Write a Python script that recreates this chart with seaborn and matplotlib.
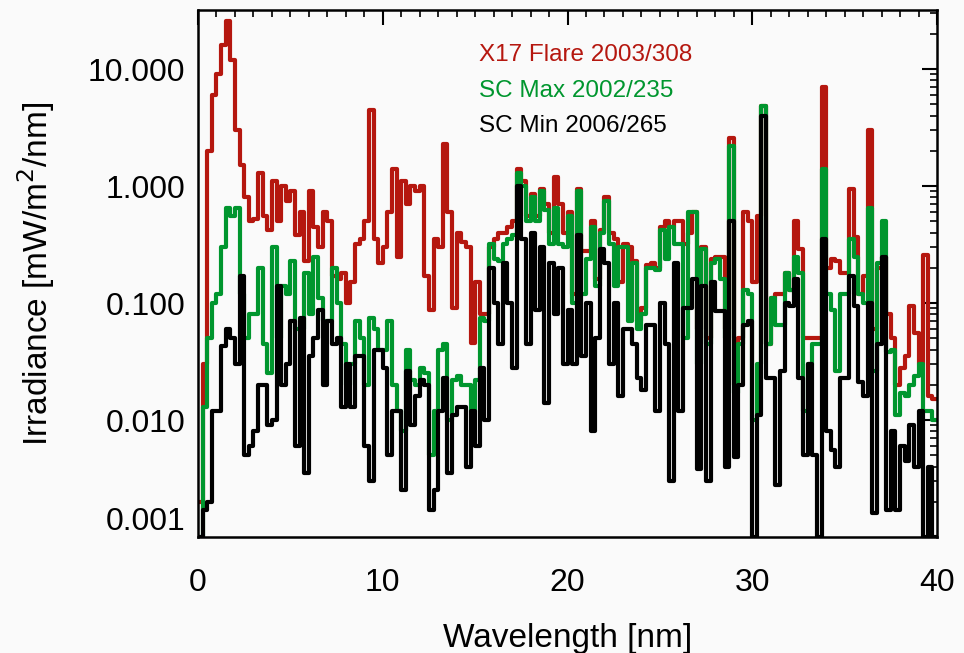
import numpy as np
import pandas as pd
import seaborn as sns
import matplotlib
matplotlib.use("Agg")
import matplotlib.pyplot as plt
from matplotlib.ticker import FixedLocator, LogLocator, NullFormatter, FixedFormatter

# spectra binned every 0.25 nm, 0 - 40 nm
bin_width = 0.25

flare_x17 = [
    0.002, 0.03, 2.0, 6.0, 9.0, 16, 26, 12, 3.0, 1.5,
    0.8, 0.5, 0.52, 1.3, 0.55, 0.42, 1.1, 0.5, 1.0, 0.75,
    0.9, 0.38, 0.6, 0.23, 0.9, 0.45, 0.3, 0.6, 0.5, 0.17,
    0.16, 0.18, 0.1, 0.15, 0.32, 0.35, 0.5, 4.5, 0.35, 0.22,
    0.3, 0.6, 1.4, 0.25, 1.1, 0.7, 1.0, 0.9, 1.0, 0.17,
    0.087, 0.35, 0.3, 2.3, 0.6, 0.09, 0.4, 0.33, 0.3, 0.046,
    0.15, 0.08, 0.08, 0.3, 0.35, 0.4, 0.4, 0.45, 0.5, 1.4,
    1.1, 0.55, 0.85, 0.55, 0.95, 0.7, 0.4, 1.2, 0.7, 0.4,
    0.6, 0.12, 0.95, 0.28, 0.28, 0.5, 0.16, 0.42, 0.8, 0.4,
    0.35, 0.15, 0.32, 0.3, 0.23, 0.07, 0.09, 0.21, 0.22, 0.2,
    0.45, 0.5, 0.45, 0.5, 0.5, 0.32, 0.4, 0.6, 0.06, 0.3,
    0.05, 0.24, 0.25, 0.25, 0.06, 2.6, 0.02, 0.05, 0.6, 0.5,
    0.15, 0.55, 4.8, 0.045, 0.11, 0.12, 0.12, 0.18, 0.13, 0.5,
    0.29, 0.05, 0.05, 0.05, 0.05, 7.0, 0.2, 0.24, 0.23, 0.18,
    0.18, 0.95, 0.37, 0.12, 0.17, 3.0, 0.06, 0.2, 0.25, 0.08,
    0.05, 0.02, 0.028, 0.035, 0.095, 0.055, 0.03, 0.26, 0.016, 0.015,
]

sc_max = [
    0.001, 0.013, 0.05, 0.1, 0.12, 0.3, 0.65, 0.55, 0.65, 0.12,
    0.05, 0.08, 0.08, 0.2, 0.045, 0.025, 0.3, 0.05, 0.14, 0.12,
    0.23, 0.06, 0.06, 0.18, 0.08, 0.25, 0.11, 0.07, 0.07, 0.2,
    0.1, 0.045, 0.02, 0.03, 0.07, 0.05, 0.02, 0.075, 0.06, 0.04,
    0.04, 0.07, 0.02, 0.012, 0.008, 0.04, 0.022, 0.02, 0.028, 0.025,
    0.005, 0.012, 0.04, 0.045, 0.01, 0.022, 0.024, 0.02, 0.02, 0.012,
    0.022, 0.075, 0.07, 0.32, 0.24, 0.23, 0.32, 0.35, 0.38, 1.3,
    1.0, 0.5, 0.8, 0.5, 0.9, 0.63, 0.32, 0.65, 0.32, 0.3,
    0.55, 0.1, 0.9, 0.12, 0.24, 0.45, 0.14, 0.4, 0.75, 0.32,
    0.14, 0.3, 0.3, 0.07, 0.22, 0.06, 0.08, 0.2, 0.2, 0.19,
    0.42, 0.24, 0.45, 0.32, 0.32, 0.05, 0.6, 0.6, 0.03, 0.29,
    0.045, 0.22, 0.24, 0.16, 0.05, 2.2, 0.017, 0.045, 0.13, 0.12,
    0.01, 0.03, 4.8, 0.045, 0.11, 0.065, 0.065, 0.18, 0.13, 0.25,
    0.18, 0.012, 0.03, 0.045, 0.045, 1.4, 0.12, 0.087, 0.026, 0.12,
    0.12, 0.35, 0.25, 0.12, 0.1, 0.65, 0.026, 0.22, 0.5, 0.038,
    0.04, 0.011, 0.017, 0.016, 0.02, 0.024, 0.03, 0.012, 0.012, 0.01,
]

sc_min = [
    0.001, 0.0017, 0.002, 0.012, 0.012, 0.043, 0.06, 0.05, 0.03, 0.17,
    0.005, 0.006, 0.008, 0.02, 0.02, 0.009, 0.01, 0.14, 0.02, 0.03,
    0.07, 0.006, 0.075, 0.0035, 0.035, 0.05, 0.087, 0.02, 0.07, 0.045,
    0.05, 0.013, 0.03, 0.013, 0.035, 0.035, 0.006, 0.003, 0.04, 0.04,
    0.028, 0.005, 0.012, 0.012, 0.0025, 0.026, 0.009, 0.016, 0.022, 0.02,
    0.0017, 0.0025, 0.012, 0.023, 0.0035, 0.011, 0.013, 0.013, 0.004, 0.012,
    0.006, 0.028, 0.01, 0.2, 0.1, 0.045, 0.22, 0.1, 0.028, 1.0,
    0.35, 0.045, 0.4, 0.087, 0.3, 0.014, 0.22, 0.08, 0.2, 0.03,
    0.087, 0.03, 0.38, 0.035, 0.1, 0.008, 0.05, 0.29, 0.22, 0.03,
    0.1, 0.016, 0.06, 0.06, 0.045, 0.023, 0.018, 0.065, 0.065, 0.012,
    0.1, 0.045, 0.003, 0.22, 0.012, 0.09, 0.09, 0.16, 0.0038, 0.14,
    0.003, 0.15, 0.085, 0.085, 0.004, 0.5, 0.0048, 0.02, 0.065, 0.07,
    0.001, 0.011, 4.0, 0.023, 0.023, 0.0028, 0.026, 0.1, 0.095, 0.16,
    0.023, 0.005, 0.03, 0.005, 0.001, 0.35, 0.008, 0.0055, 0.004, 0.023,
    0.023, 0.17, 0.095, 0.021, 0.016, 0.1, 0.0016, 0.045, 0.25, 0.0017,
    0.008, 0.0017, 0.006, 0.0045, 0.009, 0.004, 0.012, 0.001, 0.004, 0.001,
]

labels = ["X17 Flare 2003/308", "SC Max 2002/235", "SC Min 2006/265"]
colors = ["#b5170f", "#00962e", "#000000"]

# long table, last value repeated at 40 nm so the step reaches the edge
edges = np.arange(len(flare_x17) + 1) * bin_width
frames = []
for name, vals in zip(labels, [flare_x17, sc_max, sc_min]):
    frames.append(pd.DataFrame({"wavelength": edges,
                                "irradiance": list(vals) + [vals[-1]],
                                "spectrum": name}))
df = pd.concat(frames, ignore_index=True)

sns.set_style("white")
plt.rcParams["font.family"] = ["Liberation Sans", "DejaVu Sans"]
plt.rcParams["text.color"] = "black"
plt.rcParams["axes.labelcolor"] = "black"
plt.rcParams["xtick.color"] = "black"
plt.rcParams["ytick.color"] = "black"

fig = plt.figure(figsize=(9.64, 6.53), dpi=100, facecolor="#fafafa")
ax = fig.add_axes([0.2054, 0.1776, 0.7666, 0.8071])
ax.set_facecolor("#fafafa")

sns.lineplot(data=df, x="wavelength", y="irradiance", hue="spectrum",
             hue_order=labels, palette=colors, drawstyle="steps-post",
             linewidth=3.0, legend=False, ax=ax, sort=False)

ax.set_yscale("log")
ax.set_xlim(0, 40)
ax.set_ylim(0.001, 32)

ax.xaxis.set_major_locator(FixedLocator([0, 10, 20, 30, 40]))
ax.xaxis.set_minor_locator(FixedLocator(np.arange(0, 41, 1)))
ax.yaxis.set_major_locator(FixedLocator([0.001, 0.01, 0.1, 1, 10]))
ax.yaxis.set_major_formatter(FixedFormatter(["0.001", "0.010", "0.100", "1.000", "10.000"]))
ax.yaxis.set_minor_locator(LogLocator(base=10, subs=np.arange(2, 10)))
ax.yaxis.set_minor_formatter(NullFormatter())

ax.tick_params(which="both", direction="in", top=True, right=True,
               color="black", labelcolor="black")
ax.tick_params(which="major", length=11, width=1.5, labelsize=23, pad=9)
ax.tick_params(which="minor", length=5, width=1.2)
ax.tick_params(axis="x", which="major", pad=22)
for s in ax.spines.values():
    s.set_linewidth(1.8)
    s.set_color("black")

# bottom label sits just above the axis corner
fig.canvas.draw()
ax.get_yticklabels()[0].set_va("bottom")

ax.set_xlabel("Wavelength [nm]", fontsize=24, labelpad=18, color="black")
ax.set_ylabel("Irradiance [mW/m$^2$/nm]", fontsize=24, labelpad=22, color="black")

for k, (txt, c) in enumerate(zip(labels, colors)):
    ax.text(0.38, 0.915 - k * 0.068, txt, color=c, fontsize=17.5,
            transform=ax.transAxes, va="center", ha="left")

fig.savefig("out.png", dpi=100, facecolor=fig.get_facecolor())
